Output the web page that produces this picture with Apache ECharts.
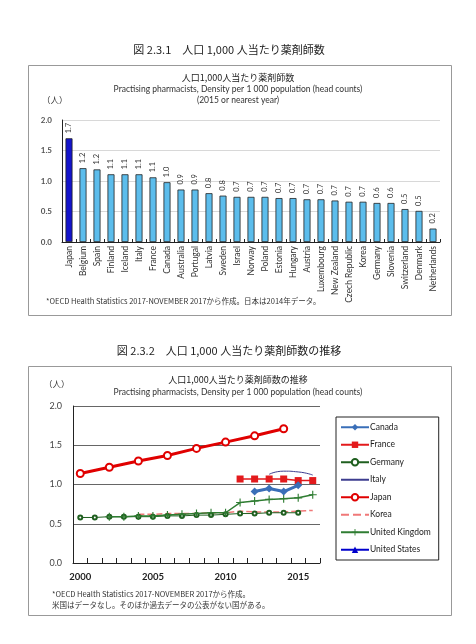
<!DOCTYPE html>
<html>
<head>
<meta charset="utf-8">
<script src="https://cdn.jsdelivr.net/npm/echarts@6/dist/echarts.min.js"></script>
<style>
  html, body { margin: 0; padding: 0; background: #fff; }
  #main { width: 476px; height: 644px; }
</style>
</head>
<body>
<div id="main"></div>
<script>
// 図2.3.1 人口1,000人当たり薬剤師数 (2015 or nearest year)
var countries = ['Japan','Belgium','Spain','Finland','Iceland','Italy','France','Canada','Australia','Portugal',
  'Latvia','Sweden','Israel','Norway','Poland','Estonia','Hungary','Austria','Luxembourg','New Zealand',
  'Czech Republic','Korea','Germany','Slovenia','Switzerland','Denmark','Netherlands'];
var density = [1.70,1.21,1.19,1.11,1.11,1.11,1.06,0.98,0.86,0.86,
  0.80,0.76,0.74,0.74,0.74,0.72,0.72,0.70,0.70,0.68,
  0.66,0.66,0.64,0.64,0.54,0.51,0.22];

// 図2.3.2 推移
var years = ['2000','2001','2002','2003','2004','2005','2006','2007','2008','2009','2010','2011','2012','2013','2014','2015','2016'];
var canada  = [null,null,null,null,null,null,null,null,null,null,null,null,0.91,0.95,0.91,0.99,null];
var france  = [null,null,null,null,null,null,null,null,null,null,null,1.07,1.07,1.07,1.07,1.05,1.05];
var germany = [0.58,0.58,0.59,0.59,0.59,0.59,0.60,0.60,0.61,0.61,0.62,0.63,0.63,0.64,0.64,0.64,null];
var italy   = [null,null,null,null,null,null,null,null,null,null,null,null,null,1.13,1.17,1.16,1.12];
var japan   = [1.14,null,1.22,null,1.30,null,1.37,null,1.46,null,1.54,null,1.62,null,1.71,null,null];
var korea   = [null,null,null,null,0.62,0.62,0.63,0.63,0.63,0.64,0.64,0.66,0.65,0.65,0.65,0.66,0.67];
var uk      = [null,null,0.59,0.59,0.60,0.60,0.61,0.62,0.63,0.64,0.64,0.77,0.79,0.81,0.82,0.83,0.87];
var us      = [];
var yTicks = [0, 0.5, 1.0, 1.5, 2.0];

var jp = '"Noto Sans CJK JP", sans-serif';
var en = 'Lato, "Noto Sans CJK JP", sans-serif';

var myChart = echarts.init(document.getElementById('main'), null, {renderer: 'canvas'});

// 凡例でマーカーを出さない系列用
var noMark = {color: 'rgba(0,0,0,0)', borderWidth: 0, opacity: 0};

var option = {
  backgroundColor: '#fff',
  animation: false,
  graphic: [
    // 図 2.3.1
    {type: 'text', x: 229, y: 44, style: {text: '図 2.3.1　人口 1,000 人当たり薬剤師数', font: '11px ' + jp, fill: '#222', align: 'center'}},
    {type: 'rect', shape: {x: 28.5, y: 65.5, width: 423, height: 250}, style: {fill: 'none', stroke: '#999', lineWidth: 1}},
    {type: 'text', x: 238, y: 73, style: {text: '人口1,000人当たり薬剤師数', font: '9px ' + jp, fill: '#222', align: 'center'}},
    {type: 'text', x: 238, y: 85, style: {text: 'Practising pharmacists, Density per 1 000 population (head counts)', font: '8.5px ' + en, fill: '#333', align: 'center'}},
    {type: 'text', x: 238, y: 96, style: {text: '(2015 or nearest year)', font: '8.5px ' + en, fill: '#333', align: 'center'}},
    {type: 'text', x: 42, y: 96, style: {text: '（人）', font: '8.5px ' + jp, fill: '#333'}},
    {type: 'text', x: 46, y: 297, style: {text: '*OECD Health Statistics 2017-NOVEMBER 2017から作成。日本は2014年データ。', font: '7.5px ' + jp, fill: '#333'}},
    // 図 2.3.2
    {type: 'text', x: 229, y: 345, style: {text: '図 2.3.2　人口 1,000 人当たり薬剤師数の推移', font: '11px ' + jp, fill: '#222', align: 'center'}},
    {type: 'rect', shape: {x: 28.5, y: 366.5, width: 423, height: 249}, style: {fill: 'none', stroke: '#999', lineWidth: 1}},
    {type: 'text', x: 238, y: 375, style: {text: '人口1,000人当たり薬剤師数の推移', font: '9px ' + jp, fill: '#222', align: 'center'}},
    {type: 'text', x: 238, y: 388, style: {text: 'Practising pharmacists, Density per 1 000 population (head counts)', font: '8.5px ' + en, fill: '#333', align: 'center'}},
    {type: 'text', x: 44, y: 380, style: {text: '（人）', font: '8.5px ' + jp, fill: '#333'}},
    {type: 'text', x: 52, y: 590, style: {text: '*OECD Health Statistics 2017-NOVEMBER 2017から作成。', font: '7.5px ' + jp, fill: '#333'}},
    {type: 'text', x: 52, y: 601, style: {text: '米国はデータなし。そのほか過去データの公表がない国がある。', font: '7.5px ' + jp, fill: '#333'}}
  ],
  grid: [
    {left: 62, right: 36, top: 120, bottom: 402},
    {left: 73, right: 156, top: 406, bottom: 81}
  ],
  legend: {
    orient: 'vertical',
    left: 336, top: 417,
    padding: [6, 8, 6, 4],
    borderColor: '#222', borderWidth: 1,
    itemWidth: 28, itemHeight: 8, itemGap: 9,
    textStyle: {fontSize: 8.5, fontFamily: en, color: '#222', padding: [0, 0, 0, -4]},
    data: [
      'Canada', 'France', 'Germany',
      {name: 'Italy', itemStyle: noMark},
      'Japan',
      {name: 'Korea', itemStyle: noMark},
      'United Kingdom', 'United States'
    ]
  },
  xAxis: [
    {
      gridIndex: 0, type: 'category', data: countries,
      axisLine: {lineStyle: {color: '#222', width: 1}},
      axisTick: {show: true, inside: true, length: 3, interval: 0, lineStyle: {color: '#222'}},
      axisLabel: {interval: 0, rotate: 90, fontSize: 8.5, fontFamily: en, color: '#333', margin: 4}
    },
    {
      gridIndex: 1, type: 'category', data: years, boundaryGap: true,
      axisLine: {lineStyle: {color: '#222', width: 1}},
      axisTick: {show: true, inside: true, length: 5, interval: 0, lineStyle: {color: '#222'}},
      axisLabel: {interval: 4, fontSize: 9.5, fontWeight: 'bold', fontFamily: en, color: '#222', margin: 9}
    }
  ],
  yAxis: [
    {
      gridIndex: 0, type: 'value', min: yTicks[0], max: yTicks[yTicks.length - 1], interval: 0.5,
      axisLine: {show: true, lineStyle: {color: '#222'}},
      axisTick: {show: false},
      splitLine: {lineStyle: {color: '#d8d8d8'}},
      axisLabel: {fontSize: 8, fontWeight: 'bold', fontFamily: en, color: '#555', margin: 10,
        formatter: function (v) { return v.toFixed(1); }}
    },
    {
      gridIndex: 1, type: 'value', min: yTicks[0], max: yTicks[yTicks.length - 1], interval: 0.5,
      axisLine: {show: true, lineStyle: {color: '#222'}},
      axisTick: {show: false},
      splitLine: {lineStyle: {color: '#666'}},
      axisLabel: {fontSize: 9, fontFamily: en, color: '#444', margin: 11,
        formatter: function (v) { return v.toFixed(1); }}
    }
  ],
  series: [
    {
      type: 'bar', xAxisIndex: 0, yAxisIndex: 0, barWidth: '50%',
      data: density.map(function (v, i) {
        return {value: v, itemStyle: {color: i === 0 ? '#1414cc' : '#5cbdec'}};
      }),
      itemStyle: {borderColor: '#222', borderWidth: 0.8},
      label: {
        show: true, position: 'top', rotate: 90, align: 'left', verticalAlign: 'middle', distance: 5,
        fontSize: 7.5, fontFamily: en, color: '#333',
        formatter: function (p) { return (Math.round(p.value * 10) / 10).toFixed(1); }
      }
    },
    {
      name: 'Canada', type: 'line', xAxisIndex: 1, yAxisIndex: 1, data: canada,
      symbol: 'diamond', symbolSize: 8, color: '#3a6fb8',
      lineStyle: {width: 3, color: '#3a6fb8'}, z: 5
    },
    {
      name: 'France', type: 'line', xAxisIndex: 1, yAxisIndex: 1, data: france,
      symbol: 'rect', symbolSize: 7, color: '#e31a1c',
      lineStyle: {width: 1.5, color: '#e31a1c'}, z: 4
    },
    {
      name: 'Germany', type: 'line', xAxisIndex: 1, yAxisIndex: 1, data: germany,
      symbol: 'emptyCircle', symbolSize: 4, color: '#1f5f1f',
      itemStyle: {borderWidth: 1},
      lineStyle: {width: 1, color: '#1f5f1f'}, z: 3
    },
    {
      name: 'Italy', type: 'line', xAxisIndex: 1, yAxisIndex: 1, data: italy,
      symbol: 'none', smooth: 0.6, color: '#3d3d8f',
      lineStyle: {width: 1, color: '#3d3d8f'}
    },
    {
      name: 'Japan', type: 'line', xAxisIndex: 1, yAxisIndex: 1, data: japan, connectNulls: true,
      symbol: 'emptyCircle', symbolSize: 7, color: '#e00000',
      itemStyle: {borderWidth: 1},
      lineStyle: {width: 3, color: '#e00000'}, z: 4
    },
    {
      name: 'Korea', type: 'line', xAxisIndex: 1, yAxisIndex: 1, data: korea,
      symbol: 'none', color: '#f07878',
      lineStyle: {width: 1.5, type: 'dashed', color: '#f07878'}, z: 2
    },
    {
      name: 'United Kingdom', type: 'line', xAxisIndex: 1, yAxisIndex: 1, data: uk,
      symbol: 'path://M4.3,0 H5.7 V4.3 H10 V5.7 H5.7 V10 H4.3 V5.7 H0 V4.3 H4.3 Z', symbolSize: 8,
      color: '#2f7d32', lineStyle: {width: 1.5, color: '#2f7d32'}, z: 3
    },
    {
      name: 'United States', type: 'line', xAxisIndex: 1, yAxisIndex: 1, data: us,
      symbol: 'triangle', symbolSize: 7, color: '#0000cc',
      lineStyle: {width: 1.5, color: '#0000cc'}
    }
  ]
};

myChart.setOption(option);
window.onresize = myChart.resize;
</script>
</body>
</html>
